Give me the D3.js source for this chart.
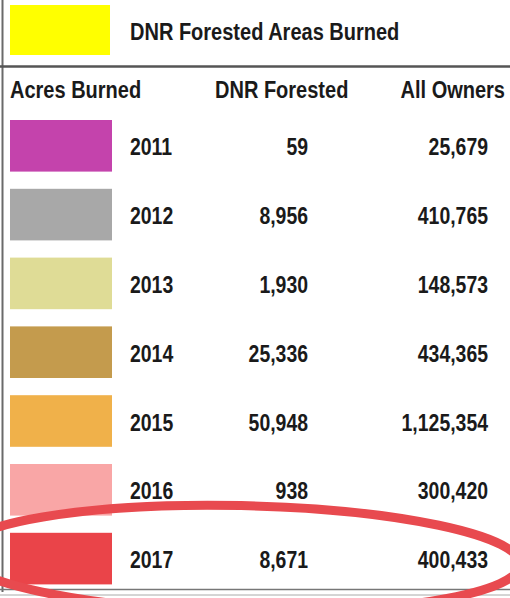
<!DOCTYPE html>
<html>
<head>
<meta charset="utf-8">
<script src="https://cdn.jsdelivr.net/npm/d3@7"></script>
<style>
  html, body { margin: 0; padding: 0; background: #fff; }
  svg { display: block; }
  text { font-family: "Liberation Sans", Arial, sans-serif; font-weight: bold; fill: #1a1a1a; }
</style>
</head>
<body>
<svg id="chart" width="510" height="598"></svg>
<script>
const title = "DNR Forested Areas Burned";
const titleColor = "#ffff00";
const columnHeaders = ["Acres Burned", "DNR Forested", "All Owners"];
const years = ["2011", "2012", "2013", "2014", "2015", "2016", "2017"];
const dnrForested = [59, 8956, 1930, 25336, 50948, 938, 8671];
const allOwners = [25679, 410765, 148573, 434365, 1125354, 300420, 400433];
const yearColors = ["#c443ac", "#a8a8a8", "#dfdc96", "#c49b4d", "#f0b14a", "#f9a6a6", "#ea4449"];
const highlightYear = "2017";

const W = 510, H = 598;
const svg = d3.select("#chart");
const fmt = d3.format(",");

const rows = years.map((y, i) => ({ year: y, dnr: dnrForested[i], all: allOwners[i], color: yearColors[i] }));

const y = d3.scaleBand().domain(years).range([120, 584.4]).paddingInner(0.25).paddingOuter(0);
const color = d3.scaleOrdinal().domain(years).range(yearColors);

// condensed text helper
function ctext(sel, x, yy, size, sx, anchor) {
  return sel.append("text")
    .attr("transform", `translate(${x},${yy}) scale(${sx},1)`)
    .attr("font-size", size)
    .attr("text-anchor", anchor || "start");
}

// frame lines
svg.append("line").attr("x1", 2.5).attr("x2", 2.5).attr("y1", 0).attr("y2", 592)
  .attr("stroke", "#6a6a6a").attr("stroke-width", 2);
svg.append("line").attr("x1", 0).attr("x2", W).attr("y1", 66.5).attr("y2", 66.5)
  .attr("stroke", "#555").attr("stroke-width", 2.5);
svg.append("line").attr("x1", 0).attr("x2", W).attr("y1", 589.5).attr("y2", 589.5)
  .attr("stroke", "#777").attr("stroke-width", 1.5);
svg.append("line").attr("x1", 0).attr("x2", W).attr("y1", 595).attr("y2", 595)
  .attr("stroke", "#aaa").attr("stroke-width", 1);

// title legend
svg.append("rect").attr("x", 10).attr("y", 5).attr("width", 100).attr("height", 50).attr("fill", titleColor);
ctext(svg, 130, 40, 23, 0.87).text(title);

// headers
const headerX = [10, 215, 505];
const headerAnchor = ["start", "start", "end"];
columnHeaders.forEach((h, i) => ctext(svg, headerX[i], 98, 23, 0.87, headerAnchor[i]).text(h));

// rows
const g = svg.selectAll("g.row").data(rows).join("g").attr("class", "row")
  .attr("transform", d => `translate(0,${y(d.year)})`);
g.append("rect").attr("x", 10).attr("y", 0).attr("width", 102).attr("height", y.bandwidth())
  .attr("fill", d => color(d.year));
const mid = y.bandwidth() / 2 + 9.5;
g.each(function (d) {
  const s = d3.select(this);
  ctext(s, 130, mid, 23, 0.845).text(d.year);
  ctext(s, 308, mid, 23, 0.845, "end").text(fmt(d.dnr));
  ctext(s, 488, mid, 23, 0.845, "end").text(fmt(d.all));
});

// highlight annotation ellipse around 2017
const hy = y(highlightYear) + y.bandwidth() / 2;
svg.append("ellipse").attr("cx", 240).attr("cy", hy).attr("rx", 280).attr("ry", 53)
  .attr("transform", `rotate(1.2,240,${hy})`)
  .attr("fill", "none").attr("stroke", "#e84a4f").attr("stroke-width", 9);
</script>
</body>
</html>
